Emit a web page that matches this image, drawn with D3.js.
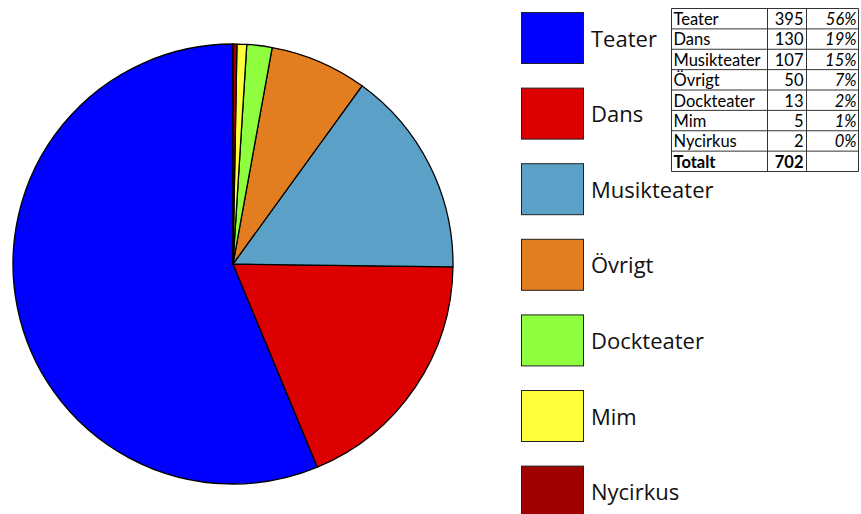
<!DOCTYPE html>
<html><head><meta charset="utf-8">
<script src="https://cdn.jsdelivr.net/npm/d3@7"></script>
<style>body{margin:0;background:#fff}svg{display:block}</style>
</head><body>
<script>
const categories = ["Teater","Dans","Musikteater","Övrigt","Dockteater","Mim","Nycirkus"];
const values = [395,130,107,50,13,5,2];
const percentLabels = ["56%","19%","15%","7%","2%","1%","0%"];
const totalLabel = "Totalt";
const totalValue = 702;
const colors = ["#0000ff","#dd0000","#5ba0c6","#e37e20","#8efe3e","#ffff3c","#a10000"];

const W=861,H=514;
const svg=d3.select("body").append("svg").attr("width",W).attr("height",H);
const font="'Open Sans', sans-serif";

// Pie
const cx=233, cy=264, r=220;
const pie=d3.pie().sort(null).startAngle(0).endAngle(-2*Math.PI).value(d=>d);
const arc=d3.arc().innerRadius(0).outerRadius(r);
const g=svg.append("g").attr("transform",`translate(${cx},${cy})`);
g.selectAll("path").data(pie(values)).join("path")
  .attr("d",arc).attr("fill",(d,i)=>colors[i])
  .attr("stroke","#000").attr("stroke-width",1.3).attr("stroke-linejoin","round");

// Legend
const ly=d3.scaleLinear().domain([0,1]).range([12,87.6]);
const leg=svg.append("g");
categories.forEach((c,i)=>{
  leg.append("rect").attr("x",521.5).attr("y",ly(i)+0.5).attr("width",62).attr("height",51)
    .attr("fill",colors[i]).attr("stroke","#222").attr("stroke-width",1);
  leg.append("text").attr("x",591).attr("y",ly(i)+34.5).attr("font-family",font)
    .attr("font-size",22).attr("fill","#111").text(c);
});

// Table
const tx0=671.5, tx1=767.5, tx2=806.5, tx3=858.5;
const rows=categories.length+1;
const ty=d3.scaleLinear().domain([0,rows]).range([8.5,171.5]);
const tb=svg.append("g").attr("font-family","Lato, sans-serif").attr("font-size",16.5).attr("fill","#000");
for(let i=0;i<=rows;i++) tb.append("line").attr("x1",tx0).attr("x2",tx3).attr("y1",ty(i)).attr("y2",ty(i)).attr("stroke","#333");
[tx0,tx1,tx2,tx3].forEach(x=>tb.append("line").attr("x1",x).attr("x2",x).attr("y1",ty(0)).attr("y2",ty(rows)).attr("stroke","#333"));
const off=16.5;
categories.forEach((c,i)=>{
  const y=ty(i)+off;
  tb.append("text").attr("x",tx0+2).attr("y",y).text(c);
  tb.append("text").attr("x",tx2-3).attr("y",y).attr("text-anchor","end").text(values[i]);
  tb.append("text").attr("x",tx3-2).attr("y",y).attr("text-anchor","end").attr("font-style","italic").text(percentLabels[i]);
});
tb.append("text").attr("x",tx0+2).attr("y",ty(rows-1)+off).attr("font-weight","bold").text(totalLabel);
tb.append("text").attr("x",tx2-3).attr("y",ty(rows-1)+off).attr("text-anchor","end").attr("font-weight","bold").text(totalValue);
</script>
</body></html>
